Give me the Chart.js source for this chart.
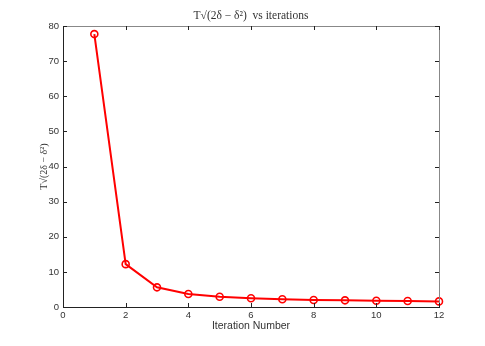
<!DOCTYPE html>
<html>
<head>
<meta charset="utf-8">
<script src="https://cdn.jsdelivr.net/npm/chart.js@4.4.0/dist/chart.umd.min.js"></script>
<style>
  html, body { margin: 0; padding: 0; background: #fff; }
  #wrap { width: 485px; height: 346px; }
</style>
</head>
<body>
<div id="wrap"><canvas id="chart"></canvas></div>
<script>
// data
const iterations = [1, 2, 3, 4, 5, 6, 7, 8, 9, 10, 11, 12];
const values = [77.7, 12.2, 5.6, 3.7, 2.9, 2.5, 2.2, 2.0, 1.9, 1.8, 1.7, 1.6];
const xTicks = [0, 2, 4, 6, 8, 10, 12];
const yTicks = [0, 10, 20, 30, 40, 50, 60, 70, 80];
const titleText = 'T√(2δ − δ²)  vs iterations';

const tickFont = { family: 'Liberation Sans, Arial, sans-serif', size: 9.5 };

// frame on top/right and inward ticks, matlab style
const framePlugin = {
  id: 'frame',
  afterDatasetsDraw(chart) {
    const { ctx, chartArea: a, scales } = chart;
    ctx.save();
    ctx.lineWidth = 1;
    ctx.strokeStyle = '#888';
    ctx.beginPath();
    ctx.moveTo(a.left, a.top + 0.5);
    ctx.lineTo(a.right + 0.5, a.top + 0.5);
    ctx.lineTo(a.right + 0.5, a.bottom);
    ctx.stroke();
    ctx.strokeStyle = '#222';
    ctx.beginPath();
    const len = 4;
    xTicks.forEach(t => {
      const x = Math.round(scales.x.getPixelForValue(t)) + 0.5;
      ctx.moveTo(x, a.bottom); ctx.lineTo(x, a.bottom - len);
      ctx.moveTo(x, a.top); ctx.lineTo(x, a.top + len);
    });
    yTicks.forEach(t => {
      const y = Math.round(scales.y.getPixelForValue(t)) + 0.5;
      ctx.moveTo(a.left, y); ctx.lineTo(a.left + len, y);
      ctx.moveTo(a.right, y); ctx.lineTo(a.right - len, y);
    });
    ctx.stroke();

    // title centred over the axes box
    ctx.fillStyle = '#333';
    ctx.font = '11.5px "Liberation Serif", "DejaVu Serif", serif';
    ctx.textAlign = 'center';
    ctx.textBaseline = 'middle';
    ctx.fillText(titleText, (a.left + a.right) / 2, 16);
    ctx.restore();
  }
};

new Chart(document.getElementById('chart'), {
  type: 'line',
  data: {
    datasets: [{
      data: iterations.map((x, i) => ({ x: x, y: values[i] })),
      borderColor: '#ff0000',
      borderWidth: 2,
      pointRadius: 3.5,
      pointBorderWidth: 1.6,
      pointBackgroundColor: 'rgba(255,255,255,0)',
      pointBorderColor: '#ff0000',
      tension: 0,
      clip: false
    }]
  },
  options: {
    responsive: true,
    maintainAspectRatio: false,
    animation: false,
    layout: { padding: { top: 26, right: 46, left: 38, bottom: 0 } },
    plugins: {
      legend: { display: false },
      tooltip: { enabled: false },
      title: { display: false }
    },
    scales: {
      x: {
        type: 'linear',
        min: 0,
        max: 12,
        afterBuildTicks(scale) { scale.ticks = xTicks.map(v => ({ value: v })); },
        afterFit(scale) { scale.height = 39; },
        grid: { display: false, drawTicks: false },
        border: { color: '#222', width: 1 },
        ticks: { color: '#333', font: tickFont, padding: 3 },
        title: {
          display: true,
          text: 'Iteration Number',
          color: '#333',
          font: { family: 'Liberation Sans, Arial, sans-serif', size: 10.5 },
          padding: { top: 0, bottom: 14 }
        }
      },
      y: {
        min: 0,
        max: 80,
        afterBuildTicks(scale) { scale.ticks = yTicks.map(v => ({ value: v })); },
        afterFit(scale) { scale.width = 25; },
        grid: { display: false, drawTicks: false },
        border: { color: '#222', width: 1 },
        ticks: { color: '#333', font: tickFont, padding: 4 },
        title: {
          display: true,
          text: 'T√(2δ − δ²)',
          color: '#333',
          font: { family: 'Liberation Serif, DejaVu Serif, serif', size: 10 },
          padding: { top: 0, bottom: 0 }
        }
      }
    }
  },
  plugins: [framePlugin]
});
</script>
</body>
</html>
